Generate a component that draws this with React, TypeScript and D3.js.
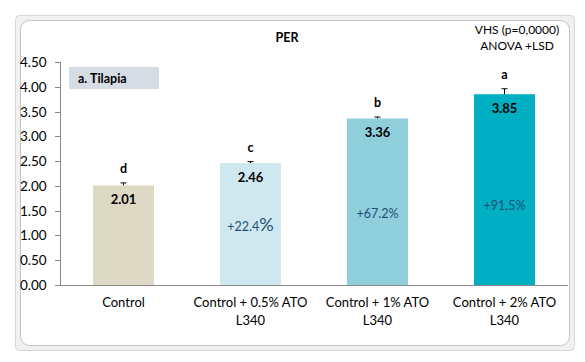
import * as d3 from 'd3';

// data
const categories = ['Control', 'Control + 0.5% ATO|L340', 'Control + 1% ATO|L340', 'Control + 2% ATO|L340'];
const perValues = [2.01, 2.46, 3.36, 3.85];
const perErrors = [0.05, 0.03, 0.03, 0.11];
const groupLetters = ['d', 'c', 'b', 'a'];
const gainLabels = ['', '+22.4', '+67.2%', '+91.5%'];
const gainAt = [0, 1.19, 1.45, 1.61];
const barColors = ['#DDD9C4', '#CFE8EF', '#8FCEDB', '#00AFC2'];
const yTicks = [0, 0.5, 1, 1.5, 2, 2.5, 3, 3.5, 4, 4.5];

const W = 585;
const H = 362;
const FONT = 'Lato, "Liberation Sans", sans-serif';

export default function App() {
  const margin = { left: 60, right: 17, top: 62, bottom: 77 };

  const x = d3.scaleBand<string>()
    .domain(categories)
    .range([margin.left, W - margin.right])
    .paddingInner(0.52)
    .paddingOuter(0.26);

  const y = d3.scaleLinear()
    .domain([0, 4.5])
    .range([H - margin.bottom, margin.top]);

  const fmt = d3.format('.2f');
  const y0 = y(0);

  return (
    <div style={{ position: 'absolute', left: 0, top: 0 }}>
      <svg width={W} height={H} style={{ display: 'block', fontFamily: FONT }}>
        <rect x={0} y={0} width={W} height={H} fill="#ffffff" />
        {/* chart frame */}
        <rect x={15.5} y={15.5} width={559} height={335} rx={4} fill="#f1f1f1" stroke="#d6d6d6" />
        <rect x={20.5} y={20.5} width={549} height={325} rx={9} fill="#ffffff" stroke="#c4c4c4" />

        {/* title and notes */}
        <text x={287} y={42} textAnchor="middle" fontSize={12.5} fontWeight="bold" fill="#000">PER</text>
        <text x={517} y={34} textAnchor="middle" fontSize={12} fill="#000">VHS (p=0,0000)</text>
        <text x={517} y={50} textAnchor="middle" fontSize={12} fill="#000">ANOVA +LSD</text>

        <rect x={69} y={67} width={90} height={22} fill="#D6DCE4" />
        <text x={78} y={83} fontSize={12.5} fontWeight="bold" fill="#000">a. Tilapia</text>

        {/* y axis */}
        <line x1={margin.left + 0.5} x2={margin.left + 0.5} y1={y(4.5)} y2={y0} stroke="#888" />
        {yTicks.map(t => (
          <g key={t}>
            <line x1={margin.left - 5} x2={margin.left} y1={Math.round(y(t)) + 0.5} y2={Math.round(y(t)) + 0.5} stroke="#888" />
            <text x={20} y={y(t) + 5} fontSize={13.5} fill="#000">{fmt(t)}</text>
          </g>
        ))}

        {/* bars */}
        {categories.map((c, i) => {
          const bx = x(c)!;
          const bw = x.bandwidth();
          const cx = bx + bw / 2;
          const top = y(perValues[i]);
          const capY = y(perValues[i] + perErrors[i]);
          return (
            <g key={c}>
              <rect x={bx} y={top} width={bw} height={y0 - top} fill={barColors[i]} />
              <line x1={cx} x2={cx} y1={top} y2={capY} stroke="#000" strokeWidth={1} />
              <line x1={cx - 3} x2={cx + 3} y1={capY} y2={capY} stroke="#000" strokeWidth={1} />
              <text x={cx} y={capY - 10} textAnchor="middle" fontSize={12.5} fontWeight="bold" fill="#000">{groupLetters[i]}</text>
              <text x={cx} y={top + 19} textAnchor="middle" fontSize={13} fontWeight="bold" fill="#000">{fmt(perValues[i])}</text>
              {gainLabels[i] && i === 1 && (
                <text x={cx} y={y(gainAt[i]) + 5} textAnchor="middle" fontSize={12.5} fill="#1F4E79">
                  {gainLabels[i]}<tspan fontSize={18}>%</tspan>
                </text>
              )}
              {gainLabels[i] && i > 1 && (
                <text x={cx} y={y(gainAt[i]) + 4.5} textAnchor="middle" fontSize={12.5} fill="#1F4E79">{gainLabels[i]}</text>
              )}
              {c.split('|').map((line, k) => (
                <text key={k} x={cx} y={y0 + 22 + k * 18} textAnchor="middle" fontSize={13} fill="#000">{line}</text>
              ))}
            </g>
          );
        })}

        {/* x axis */}
        <line x1={margin.left} x2={W - margin.right} y1={y0 + 0.5} y2={y0 + 0.5} stroke="#888" />
      </svg>
    </div>
  );
}
